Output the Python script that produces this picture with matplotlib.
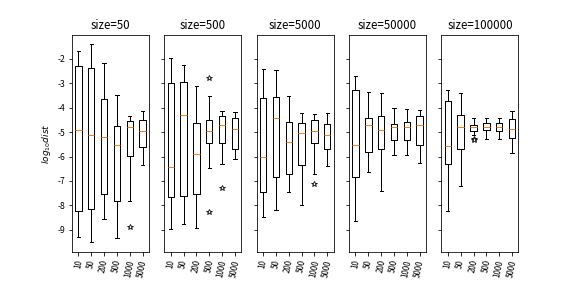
import matplotlib
matplotlib.use("Agg")
import matplotlib.pyplot as plt

plt.rcParams['font.family'] = ['Noto Sans CJK JP', 'DejaVu Sans']
plt.rcParams['axes.unicode_minus'] = False

sizes = [50, 500, 5000, 50000, 100000]
labels = ['10', '50', '200', '500', '1000', '5000']

# per panel, per box: [whislo, q1, med, q3, whishi]
stats_50 = [
    [-9.29, -8.23, -4.90, -2.30, -1.69],
    [-9.49, -8.14, -5.13, -2.38, -1.39],
    [-8.55, -7.53, -5.20, -3.65, -2.20],
    [-9.33, -7.83, -5.53, -4.75, -3.50],
    [-7.82, -5.98, -4.78, -4.55, -4.34],
    [-6.35, -5.61, -4.94, -4.49, -4.13],
]
stats_500 = [
    [-8.96, -7.65, -6.41, -2.99, -1.99],
    [-8.74, -7.60, -4.30, -2.95, -2.26],
    [-8.92, -7.52, -5.90, -4.64, -3.12],
    [-6.46, -5.45, -4.96, -4.49, -3.53],
    [-6.31, -5.45, -4.71, -4.34, -4.14],
    [-6.10, -5.68, -4.86, -4.44, -4.18],
]
stats_5000 = [
    [-8.47, -7.45, -6.01, -3.61, -2.42],
    [-8.19, -6.82, -4.43, -3.57, -2.48],
    [-7.45, -6.71, -5.41, -4.59, -3.53],
    [-7.97, -6.35, -5.04, -4.64, -4.22],
    [-6.71, -5.45, -4.96, -4.49, -4.28],
    [-6.37, -5.68, -5.12, -4.67, -4.22],
]
stats_50000 = [
    [-8.63, -6.82, -5.53, -3.28, -2.72],
    [-6.63, -5.81, -4.71, -4.44, -3.35],
    [-7.41, -5.68, -4.90, -4.34, -3.40],
    [-5.94, -5.32, -4.79, -4.67, -4.03],
    [-5.94, -5.32, -4.79, -4.59, -4.06],
    [-6.26, -5.53, -4.71, -4.34, -4.10],
]
stats_100000 = [
    [-8.23, -6.31, -5.57, -3.73, -3.28],
    [-7.19, -5.68, -4.79, -4.30, -3.40],
    [-5.12, -4.96, -4.79, -4.71, -4.44],
    [-5.27, -4.92, -4.79, -4.63, -4.44],
    [-5.27, -4.96, -4.79, -4.63, -4.44],
    [-5.86, -5.24, -4.87, -4.47, -4.13],
]
fliers_50 = [[], [], [], [], [-8.88], []]
fliers_500 = [[], [], [], [-2.78, -8.25], [-7.29], []]
fliers_5000 = [[], [], [], [], [-7.14], []]
fliers_50000 = [[], [], [], [], [], []]
fliers_100000 = [[], [], [-5.28, -5.33], [], [], []]

all_stats = [stats_50, stats_500, stats_5000, stats_50000, stats_100000]
all_fliers = [fliers_50, fliers_500, fliers_5000, fliers_50000, fliers_100000]

fig, axes = plt.subplots(1, 5, figsize=(8, 4), dpi=72, sharey=True)
fig.subplots_adjust(bottom=0.125)

flierprops = dict(marker='*', markerfacecolor='white', markeredgecolor='black',
                  markersize=6, markeredgewidth=0.8)

for ax, size, st, fl in zip(axes, sizes, all_stats, all_fliers):
    bxp_stats = []
    for lab, s, f in zip(labels, st, fl):
        bxp_stats.append(dict(label=lab, whislo=s[0], q1=s[1], med=s[2],
                              q3=s[3], whishi=s[4], fliers=f))
    ax.bxp(bxp_stats, showfliers=True, flierprops=flierprops)
    ax.set_title(f'size={size}', fontsize=11.5)
    ax.tick_params(axis='x', labelrotation=78, labelsize=8)
    ax.tick_params(axis='y', labelsize=8.5)
    for t in ax.get_xticklabels():
        t.set_fontstyle('italic')

axes[0].set_ylim(-9.9, -1.02)
axes[0].set_ylabel('$log_{10}dist$', fontsize=9)

plt.savefig('out.png', dpi=72)
